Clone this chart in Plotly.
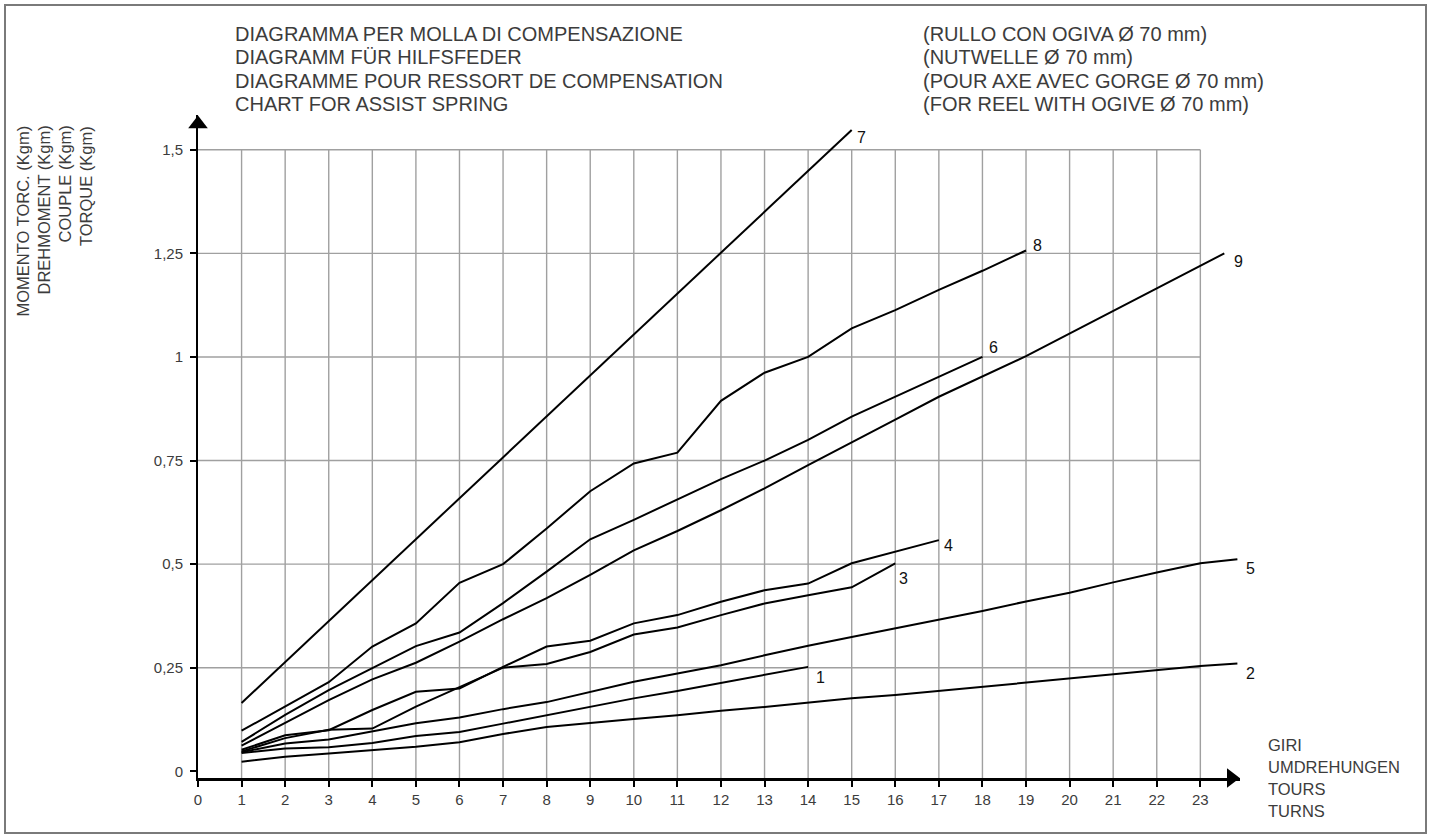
import plotly.graph_objects as go

# ---------------- data ----------------
x_tick_values = list(range(0, 24))
y_tick_values = [0, 0.25, 0.5, 0.75, 1, 1.25, 1.5]
y_tick_labels = ["0", "0,25", "0,5", "0,75", "1", "1,25", "1,5"]

curve1_x = list(range(1, 15))
curve1_y = [0.044, 0.055, 0.058, 0.068, 0.085, 0.095, 0.115, 0.135, 0.155, 0.176, 0.194, 0.213, 0.232, 0.252]

curve2_x = list(range(1, 24)) + [23.85]
curve2_y = [0.023, 0.035, 0.043, 0.051, 0.059, 0.070, 0.090, 0.107, 0.117, 0.126, 0.135, 0.146,
            0.155, 0.166, 0.176, 0.184, 0.194, 0.204, 0.214, 0.224, 0.234, 0.244, 0.254, 0.260]

curve3_x = list(range(1, 17))
curve3_y = [0.048, 0.080, 0.100, 0.103, 0.156, 0.204, 0.250, 0.259, 0.288, 0.330, 0.347, 0.377,
            0.405, 0.425, 0.444, 0.502]

curve4_x = list(range(1, 18))
curve4_y = [0.052, 0.087, 0.099, 0.148, 0.192, 0.200, 0.252, 0.301, 0.315, 0.357, 0.377, 0.409,
            0.437, 0.453, 0.502, 0.530, 0.558]

curve5_x = list(range(1, 24)) + [23.85]
curve5_y = [0.046, 0.067, 0.077, 0.097, 0.116, 0.130, 0.150, 0.167, 0.192, 0.216, 0.236, 0.256,
            0.280, 0.303, 0.324, 0.345, 0.365, 0.387, 0.410, 0.431, 0.456, 0.480, 0.502, 0.512]

curve6_x = list(range(1, 19))
curve6_y = [0.071, 0.136, 0.196, 0.250, 0.302, 0.335, 0.406, 0.482, 0.560, 0.607, 0.656, 0.705,
            0.750, 0.800, 0.856, 0.904, 0.952, 1.000]

curve7_x = [1, 15]
curve7_y = [0.165, 1.548]

curve8_x = list(range(1, 20))
curve8_y = [0.098, 0.157, 0.215, 0.301, 0.357, 0.455, 0.500, 0.586, 0.676, 0.743, 0.769, 0.894,
            0.962, 1.000, 1.069, 1.113, 1.162, 1.208, 1.257]

curve9_x = list(range(1, 20)) + [23.55]
curve9_y = [0.062, 0.116, 0.172, 0.222, 0.262, 0.313, 0.367, 0.418, 0.474, 0.533, 0.580, 0.630,
            0.683, 0.739, 0.795, 0.849, 0.904, 0.952, 1.002, 1.250]

curves = [
    ("1", curve1_x, curve1_y, 6, -11),
    ("2", curve2_x, curve2_y, 7, -10),
    ("3", curve3_x, curve3_y, 2, -15),
    ("4", curve4_x, curve4_y, 3, -5),
    ("5", curve5_x, curve5_y, 7, -9),
    ("6", curve6_x, curve6_y, 5, 9),
    ("7", curve7_x, curve7_y, 3, -8),
    ("8", curve8_x, curve8_y, 5, 5),
    ("9", curve9_x, curve9_y, 8, -8),
]

title_left = ["DIAGRAMMA PER MOLLA DI COMPENSAZIONE", "DIAGRAMM FÜR HILFSFEDER",
              "DIAGRAMME POUR RESSORT DE COMPENSATION", "CHART FOR ASSIST SPRING"]
title_right = ["(RULLO CON OGIVA Ø 70 mm)", "(NUTWELLE Ø 70 mm)",
               "(POUR AXE AVEC GORGE Ø 70 mm)", "(FOR REEL WITH OGIVE Ø 70 mm)"]
y_titles = ["MOMENTO TORC. (Kgm)", "DREHMOMENT (Kgm)", "COUPLE (Kgm)", "TORQUE (Kgm)"]
x_titles = ["GIRI", "UMDREHUNGEN", "TOURS", "TURNS"]

# ---------------- layout geometry ----------------
W, H = 1432, 837
L, R, T, B = 198, 192, 115, 59
X_RANGE = [0, 23.91]
Y_RANGE = [-0.0162, 1.584]
PW, PH = W - L - R, H - T - B
FONT = "Liberation Sans, Arial, sans-serif"
TXT = "#3c3c3c"
GRID = "#a0a0a0"


def px(xp):
    return (xp - L) / PW


def py(yp):
    return (H - B - yp) / PH


fig = go.Figure()

for name, xs, ys, dx, dy in curves:
    fig.add_trace(go.Scatter(x=xs, y=ys, mode="lines", name=name,
                             line=dict(color="black", width=2), showlegend=False,
                             hoverinfo="skip"))

# arrow heads at ends of the axes
fig.add_trace(go.Scatter(x=[X_RANGE[1] - 0.2], y=[Y_RANGE[0]], mode="markers",
                         marker=dict(symbol="triangle-right", size=17, color="black"),
                         cliponaxis=False, showlegend=False, hoverinfo="skip"))
fig.add_trace(go.Scatter(x=[0], y=[Y_RANGE[1] - 0.022], mode="markers",
                         marker=dict(symbol="triangle-up", size=17, color="black"),
                         cliponaxis=False, showlegend=False, hoverinfo="skip"))

shapes = []
# grid
for xv in x_tick_values[1:]:
    shapes.append(dict(type="line", xref="x", yref="y", x0=xv, x1=xv, y0=Y_RANGE[0],
                       y1=y_tick_values[-1], line=dict(color=GRID, width=1.4), layer="below"))
for yv in y_tick_values[1:]:
    shapes.append(dict(type="line", xref="x", yref="y", x0=0, x1=x_tick_values[-1], y0=yv,
                       y1=yv, line=dict(color=GRID, width=1.4), layer="below"))
# page frame
shapes.append(dict(type="rect", xref="paper", yref="paper", x0=px(5), x1=px(1426),
                   y0=py(833), y1=py(5), line=dict(color="#7a7a7a", width=2),
                   fillcolor="rgba(0,0,0,0)", layer="below"))

annotations = []
for name, xs, ys, dx, dy in curves:
    annotations.append(dict(x=xs[-1], y=ys[-1], xref="x", yref="y", text=name,
                            showarrow=False, xanchor="left", yanchor="middle",
                            xshift=dx, yshift=dy,
                            font=dict(family=FONT, size=16, color="#111")))

for i, t in enumerate(title_left):
    annotations.append(dict(x=px(233), y=py(34 + i * 23.4), xref="paper", yref="paper",
                            text=t, showarrow=False, xanchor="left", yanchor="middle",
                            font=dict(family=FONT, size=20, color=TXT)))
for i, t in enumerate(title_right):
    annotations.append(dict(x=px(921), y=py(34 + i * 23.4), xref="paper", yref="paper",
                            text=t, showarrow=False, xanchor="left", yanchor="middle",
                            font=dict(family=FONT, size=20, color=TXT)))
for i, t in enumerate(y_titles):
    annotations.append(dict(x=px(23 + i * 21), y=py(124), xref="paper", yref="paper",
                            text=t, showarrow=False, textangle=-90, xanchor="center",
                            yanchor="top",
                            font=dict(family=FONT, size=16.5, color=TXT)))
for i, t in enumerate(x_titles):
    annotations.append(dict(x=px(1266), y=py(745 + i * 22), xref="paper", yref="paper",
                            text=t, showarrow=False, xanchor="left", yanchor="middle",
                            font=dict(family=FONT, size=16.5, color=TXT)))

fig.update_layout(
    width=W, height=H,
    margin=dict(l=L, r=R, t=T, b=B, pad=0),
    paper_bgcolor="white", plot_bgcolor="white",
    shapes=shapes, annotations=annotations,
    xaxis=dict(range=X_RANGE, tickmode="array", tickvals=x_tick_values,
               ticktext=[str(v) for v in x_tick_values], showgrid=False, zeroline=False,
               showline=True, linecolor="black", linewidth=2.5, ticks="outside",
               ticklen=6, tickwidth=1.5, tickcolor="black",
               tickfont=dict(family=FONT, size=15, color=TXT)),
    yaxis=dict(range=Y_RANGE, tickmode="array", tickvals=y_tick_values,
               ticktext=y_tick_labels, showgrid=False, zeroline=False,
               showline=True, linecolor="black", linewidth=2, ticks="outside",
               ticklen=6, tickwidth=1.5, tickcolor="black", ticklabelstandoff=4,
               tickfont=dict(family=FONT, size=15, color=TXT)),
)

fig.write_html("out.html", config={"displayModeBar": False},
               post_script="document.body.style.margin='0';document.body.style.overflow='hidden';")
